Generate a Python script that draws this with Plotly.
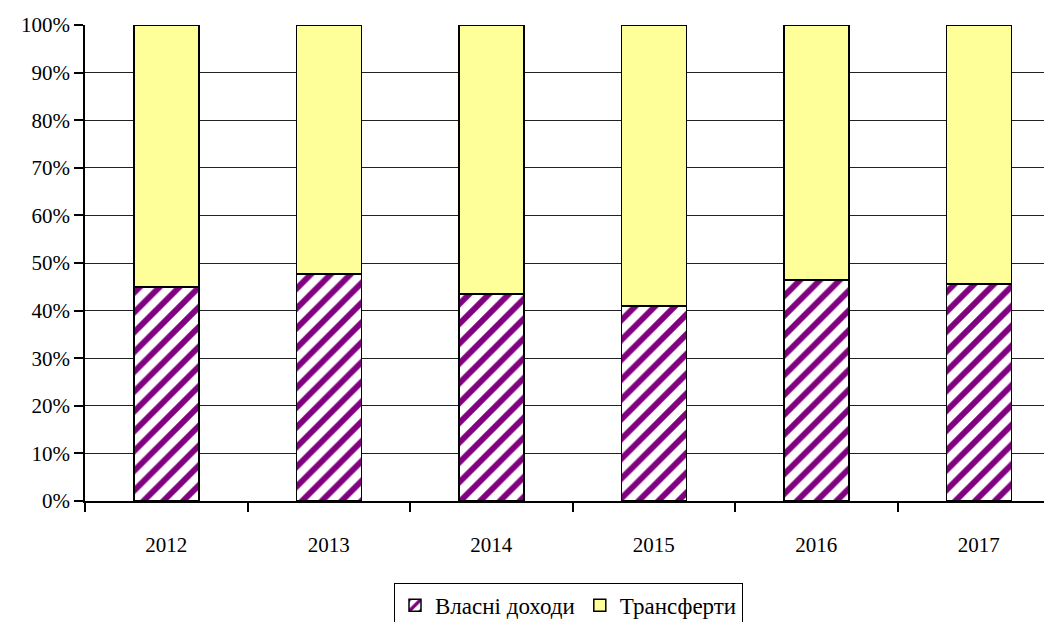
import plotly.graph_objects as go

years = ["2012", "2013", "2014", "2015", "2016", "2017"]
own_income = [45.0, 47.7, 43.5, 41.0, 46.4, 45.6]
transfers = [100 - v for v in own_income]
series_names = ["Власні доходи", "Трансферти"]
y_ticks = [0, 10, 20, 30, 40, 50, 60, 70, 80, 90, 100]
y_labels = [f"{v}%" for v in y_ticks]

serif = "Liberation Serif"
font = dict(family=serif, size=21, color="black")

fig = go.Figure()
fig.add_bar(
    x=years, y=own_income, name=series_names[0], width=0.4,
    marker=dict(color="white", line=dict(color="black", width=1.5),
                pattern=dict(shape="/", fgcolor="#800080", bgcolor="white",
                             fgopacity=1, size=14, solidity=0.42)),
)
fig.add_bar(
    x=years, y=transfers, name=series_names[1], width=0.4,
    marker=dict(color="#FFFF99", line=dict(color="black", width=1.5)),
)

fig.update_layout(
    barmode="stack",
    width=1052, height=622,
    margin=dict(l=77, r=8, t=17, b=129, autoexpand=False),
    paper_bgcolor="white", plot_bgcolor="white",
    font=font,
    showlegend=True,
    legend=dict(orientation="h", xref="paper", x=0.5, xanchor="center",
                yref="paper", y=-0.172, yanchor="top",
                bordercolor="black", borderwidth=1, bgcolor="white",
                font=dict(family=serif, size=23, color="black"),
                itemwidth=30, traceorder="normal"),
)
fig.update_xaxes(
    type="category", range=[-0.5, 5.45], automargin=False,
    showline=True, linecolor="black", linewidth=1.5,
    ticks="outside", tickson="boundaries", ticklen=9, tickcolor="black", tickwidth=1.5,
    ticklabelstandoff=24, showgrid=False,
    tickfont=dict(family=serif, size=21, color="black"),
)
fig.update_yaxes(
    range=[0, 100], tickvals=y_ticks, ticktext=y_labels, automargin=False,
    showline=True, linecolor="black", linewidth=1.5,
    ticks="outside", ticklen=9, tickcolor="black", tickwidth=1.5,
    showgrid=True, gridcolor="#222222", gridwidth=1.2, zeroline=False,
    tickfont=dict(family=serif, size=21, color="black"),
)

fig.write_html("out.html")
